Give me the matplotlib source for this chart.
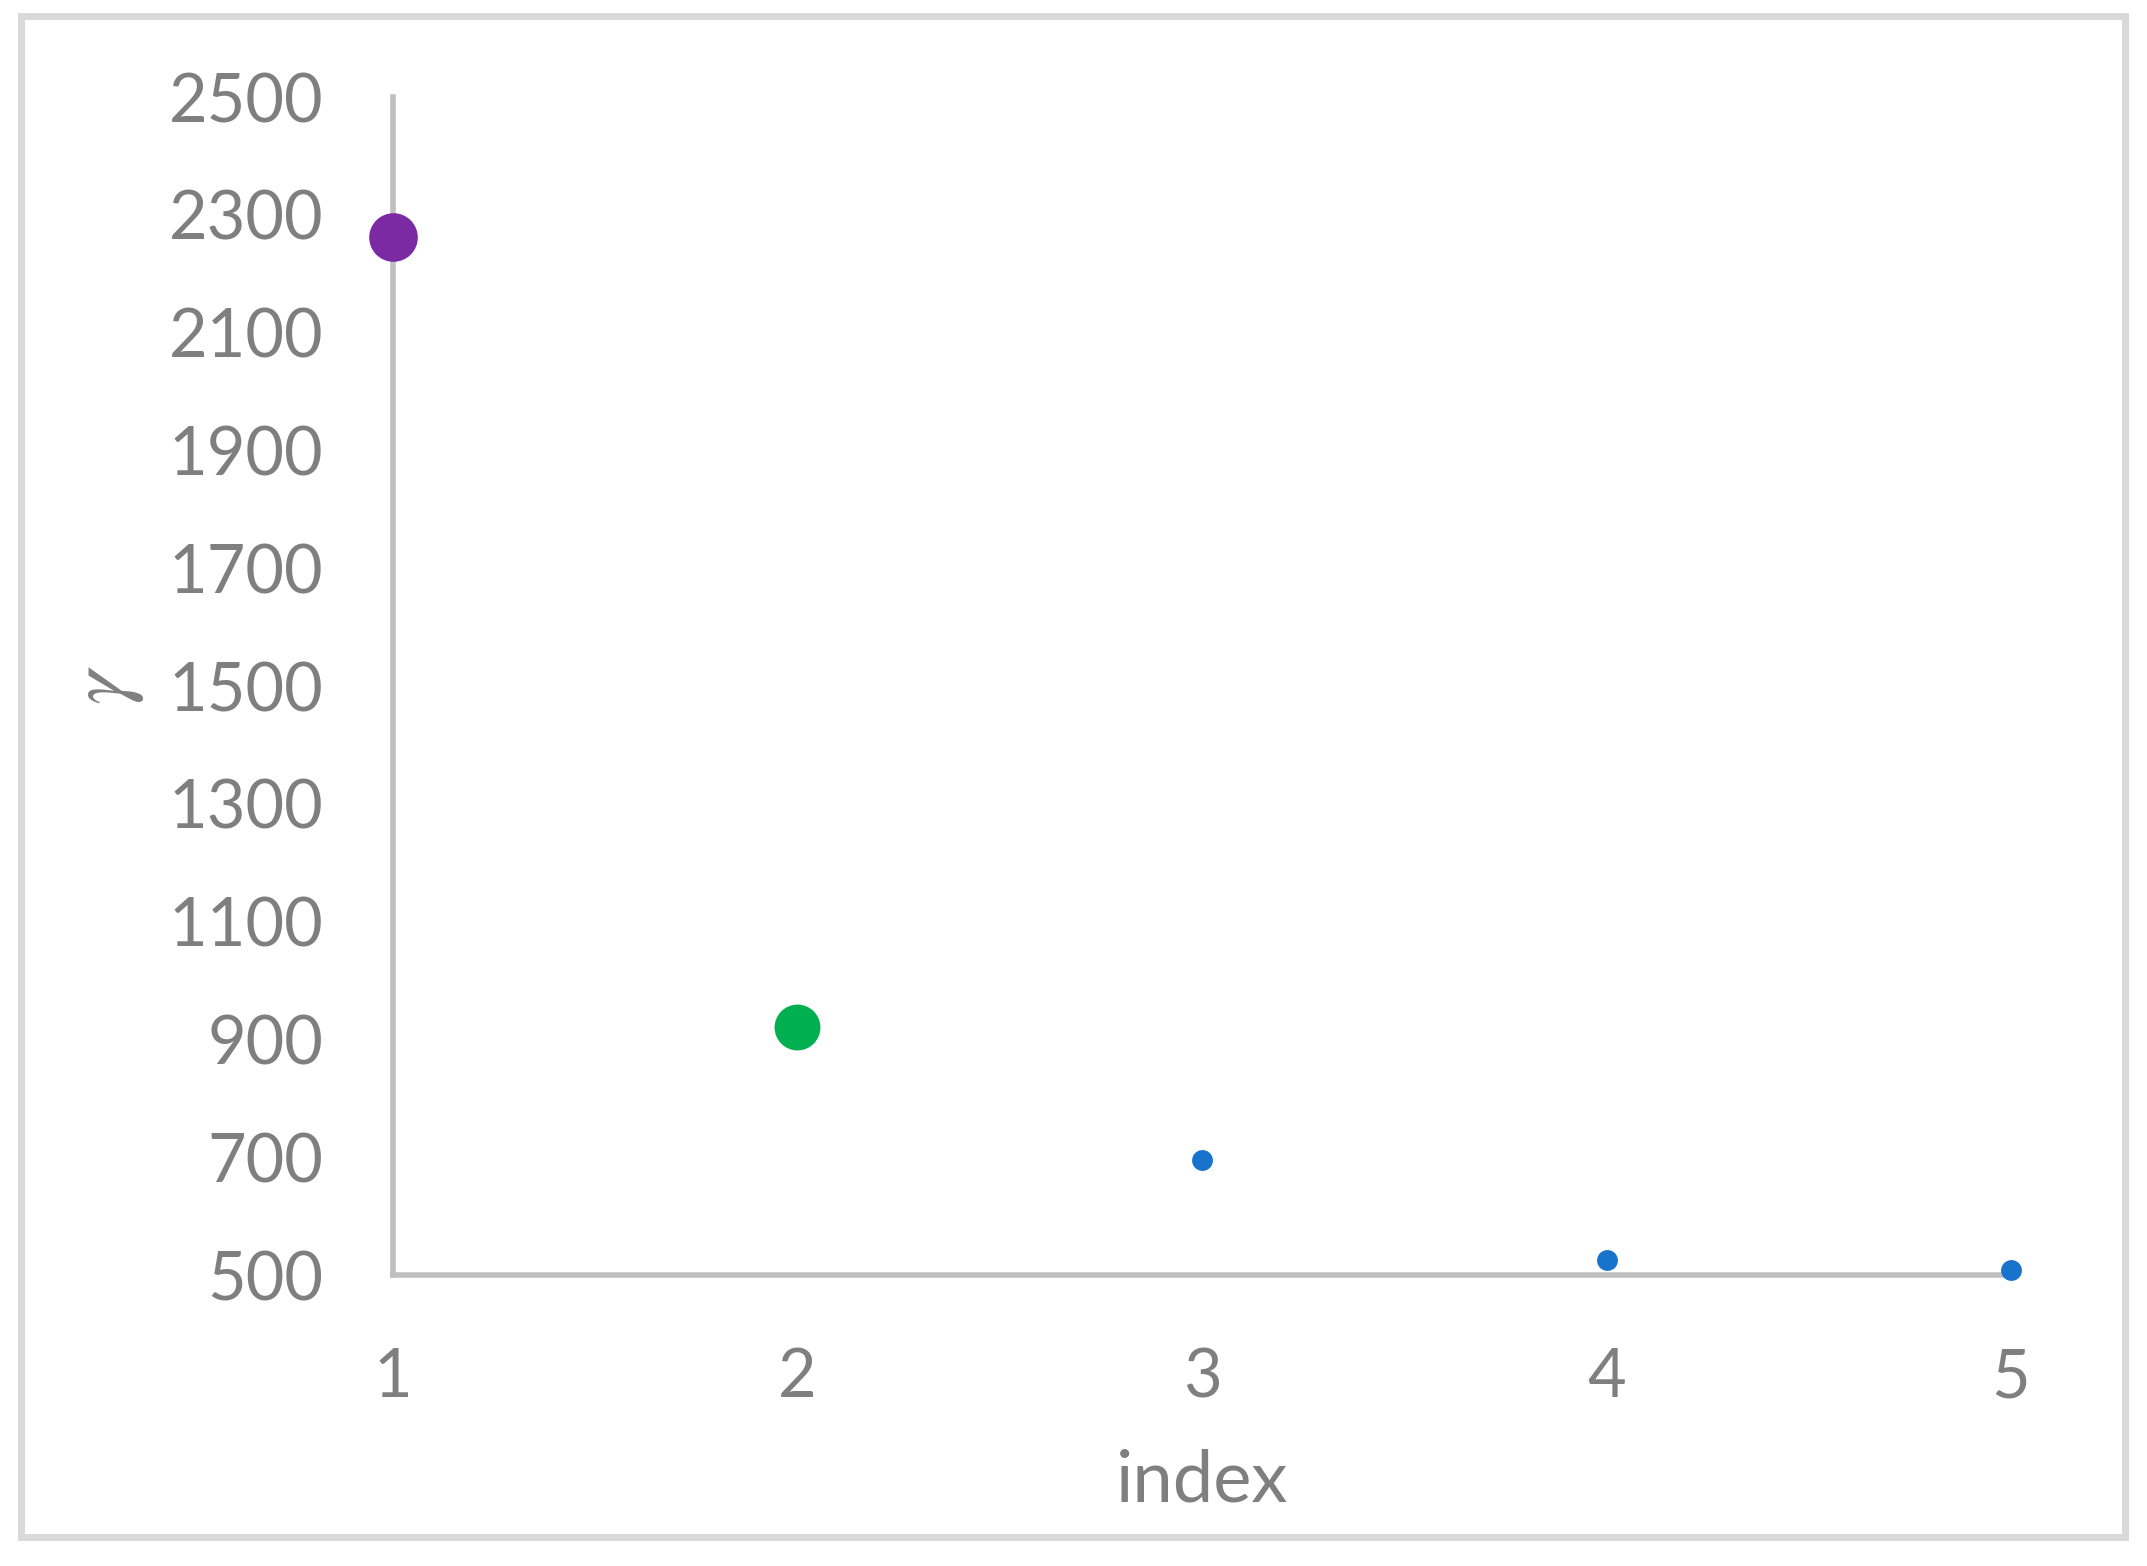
import matplotlib
matplotlib.use("Agg")
import matplotlib.pyplot as plt
from matplotlib.patches import Rectangle

# data
index_vals = [1, 2, 3, 4, 5]
gamma_vals = [2263, 921, 695, 526, 509]
point_colors = ["#7B2AA3", "#00B050", "#1773CC", "#1773CC", "#1773CC"]
point_sizes = [35, 33, 15, 15, 15]
y_ticks = [500, 700, 900, 1100, 1300, 1500, 1700, 1900, 2100, 2300, 2500]
x_ticks = [1, 2, 3, 4, 5]

grey_txt = "#7F7F7F"
axis_col = "#BFBFBF"

plt.rcParams["font.family"] = ["Lato", "DejaVu Sans"]
plt.rcParams["mathtext.fontset"] = "stix"

fig = plt.figure(figsize=(21.47, 15.66), dpi=100)
ax = fig.add_axes([0.183, 0.1858, 0.7537, 0.7522])

for x, y, c, s in zip(index_vals, gamma_vals, point_colors, point_sizes):
    ax.plot(x, y, "o", color=c, markersize=s, markeredgewidth=0, clip_on=False, zorder=3)

ax.set_xlim(1, 5)
ax.set_ylim(500, 2500)
ax.set_xticks(x_ticks)
ax.set_yticks(y_ticks)
ax.tick_params(axis="both", length=0, labelsize=48, labelcolor=grey_txt)
ax.tick_params(axis="y", pad=50)
ax.tick_params(axis="x", pad=52)

for side in ["top", "right"]:
    ax.spines[side].set_visible(False)
for side in ["left", "bottom"]:
    ax.spines[side].set_color(axis_col)
    ax.spines[side].set_linewidth(4)

ax.set_xlabel("index", fontsize=52, color=grey_txt, labelpad=28)
fig.text(0.050, 1 - 685 / 1566, r"$\gamma$", fontsize=62, color=grey_txt,
         rotation=90, ha="center", va="center")

# outer chart border
fig.patches.append(Rectangle((0.0098, 0.0185), 0.9800, 0.9713, transform=fig.transFigure,
                             fill=False, edgecolor="#D9D9D9", linewidth=5))

fig.savefig("out.png", dpi=100, facecolor="white")
